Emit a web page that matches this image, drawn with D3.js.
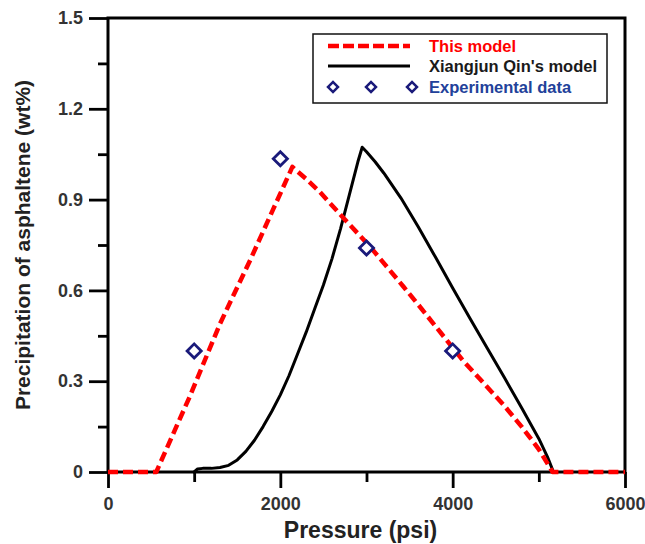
<!DOCTYPE html>
<html>
<head>
<meta charset="utf-8">
<script src="https://cdn.jsdelivr.net/npm/d3@7"></script>
<style>
  html, body { margin: 0; padding: 0; background: #fff; }
  svg { display: block; font-family: "Liberation Sans", Arial, sans-serif; }
</style>
</head>
<body>
<svg id="chart" width="645" height="544"></svg>
<script>
// Asphaltene precipitation vs pressure

// "This model" (red dashed)
const modelPressure = [0, 560, 950, 1300, 1650, 1920, 2140, 2300, 2460, 2730, 3040, 3430, 3620, 4120, 4590, 4800, 5000, 5160, 6000];
const modelValue    = [0, 0, 0.25, 0.49, 0.70, 0.87, 1.008, 0.968, 0.925, 0.840, 0.745, 0.612, 0.546, 0.368, 0.222, 0.150, 0.075, 0, 0];

// Xiangjun Qin's model (black solid)
const qinPressure = [1000, 1040, 1100, 1200, 1300, 1400, 1500, 1600, 1700, 1800, 1900, 2000, 2100, 2200, 2300, 2400, 2500, 2600, 2700, 2800, 2900, 2950,
                     3000, 3100, 3200, 3400, 3600, 3800, 4000, 4200, 4400, 4600, 4800, 5000, 5100, 5170];
const qinValue    = [0, 0.010, 0.012, 0.012, 0.015, 0.022, 0.040, 0.068, 0.105, 0.150, 0.200, 0.255, 0.318, 0.390, 0.462, 0.540, 0.618, 0.705, 0.805, 0.915, 1.025, 1.073,
                     1.058, 1.025, 0.988, 0.905, 0.810, 0.710, 0.608, 0.508, 0.410, 0.312, 0.212, 0.110, 0.050, 0];

// Experimental data (diamonds)
const expPressure = [1000, 2000, 3000, 4000];
const expValue    = [0.40, 1.035, 0.74, 0.40];

// Axis ticks
const xMajorTicks = [0, 2000, 4000, 6000];
const xMinorTicks = [1000, 3000, 5000];
const yMajorTicks = [0, 0.3, 0.6, 0.9, 1.2, 1.5];
const yMinorTicks = [0.15, 0.45, 0.75, 1.05, 1.35];
const yTickLabels = ["0", "0.3", "0.6", "0.9", "1.2", "1.5"];

const legendLabels = ["This model", "Xiangjun Qin's model", "Experimental data"];

const svg = d3.select("#chart");
const plotLeft = 108, plotRight = 625, plotTop = 18, plotBottom = 472;

const x = d3.scaleLinear().domain([0, 6000]).range([plotLeft, plotRight]);
const y = d3.scaleLinear().domain([0, 1.5]).range([plotBottom, plotTop]);

const red = "#ff0000";
const navy = "#1a1a7a";
const axisColor = "#000";
const tickText = "#333";

// Axes (bottom, left) with outward ticks
const xAxis = d3.axisBottom(x).tickValues(xMajorTicks).tickSize(16).tickPadding(9).tickFormat(d3.format("d"));
const xAxisMinor = d3.axisBottom(x).tickValues(xMinorTicks).tickSize(10).tickFormat("");
const yAxis = d3.axisLeft(y).tickValues(yMajorTicks).tickSize(19).tickPadding(6)
  .tickFormat((d, i) => yTickLabels[i]);
const yAxisMinor = d3.axisLeft(y).tickValues(yMinorTicks).tickSize(10).tickFormat("");

function styleAxis(g) {
  g.select(".domain").remove();
  g.selectAll(".tick line").attr("stroke", axisColor).attr("stroke-width", 2.8);
  g.selectAll(".tick text")
    .attr("fill", tickText)
    .style("font-size", "18px")
    .style("font-weight", "bold")
    .style("font-family", "'Liberation Sans', Arial, sans-serif");
}

svg.append("g").attr("transform", `translate(0,${plotBottom})`).call(xAxisMinor).call(styleAxis);
svg.append("g").attr("transform", `translate(0,${plotBottom})`).call(xAxis).call(styleAxis);
svg.append("g").attr("transform", `translate(${plotLeft},0)`).call(yAxisMinor).call(styleAxis);
svg.append("g").attr("transform", `translate(${plotLeft},0)`).call(yAxis).call(styleAxis);

// Plot frame
svg.append("rect")
  .attr("x", plotLeft).attr("y", plotTop)
  .attr("width", plotRight - plotLeft).attr("height", plotBottom - plotTop)
  .attr("fill", "none").attr("stroke", axisColor).attr("stroke-width", 3);

// Curves
const modelData = modelPressure.map((p, i) => [p, modelValue[i]]);
const qinData = qinPressure.map((p, i) => [p, qinValue[i]]);
const line = d3.line().x(d => x(d[0])).y(d => y(d[1])).curve(d3.curveLinear);

svg.append("path")
  .datum(qinData)
  .attr("d", line)
  .attr("fill", "none")
  .attr("stroke", "#000")
  .attr("stroke-width", 3)
  .attr("stroke-linejoin", "round")
  .attr("stroke-linecap", "round");

svg.append("path")
  .datum(modelData)
  .attr("d", line)
  .attr("fill", "none")
  .attr("stroke", red)
  .attr("stroke-width", 4.5)
  .attr("stroke-dasharray", "10,5")
  .attr("stroke-linejoin", "round");

// Experimental points
const diamond = d3.symbol().type(d3.symbolSquare).size(100);
svg.append("g").selectAll("path")
  .data(expPressure.map((p, i) => [p, expValue[i]]))
  .join("path")
  .attr("d", diamond)
  .attr("transform", d => `translate(${x(d[0])},${y(d[1])}) rotate(45)`)
  .attr("fill", "#fff")
  .attr("stroke", navy)
  .attr("stroke-width", 2.8);

// Axis titles
svg.append("text")
  .attr("x", (plotLeft + plotRight) / 2 - 6).attr("y", 538)
  .attr("text-anchor", "middle")
  .attr("fill", "#222")
  .style("font-size", "23px").style("font-weight", "bold")
  .text("Pressure (psi)");

svg.append("text")
  .attr("transform", `translate(30,${(plotTop + plotBottom) / 2}) rotate(-90)`)
  .attr("text-anchor", "middle")
  .attr("fill", "#222")
  .style("font-size", "21px").style("font-weight", "bold")
  .text("Precipitation of asphaltene (wt%)");

// Legend
const lg = svg.append("g");
lg.append("rect")
  .attr("x", 313).attr("y", 34).attr("width", 294).attr("height", 69)
  .attr("fill", "#fff").attr("stroke", "#111").attr("stroke-width", 1.5);

const rowY = [46, 66, 87];
lg.append("line")
  .attr("x1", 328).attr("x2", 410).attr("y1", rowY[0]).attr("y2", rowY[0])
  .attr("stroke", red).attr("stroke-width", 4.5).attr("stroke-dasharray", "11,4");
lg.append("line")
  .attr("x1", 328).attr("x2", 410).attr("y1", rowY[1]).attr("y2", rowY[1])
  .attr("stroke", "#000").attr("stroke-width", 3);
lg.selectAll("path.lgd")
  .data([333, 371, 412])
  .join("path")
  .attr("class", "lgd")
  .attr("d", d3.symbol().type(d3.symbolSquare).size(50))
  .attr("transform", d => `translate(${d},${rowY[2]}) rotate(45)`)
  .attr("fill", "#fff").attr("stroke", navy).attr("stroke-width", 2.5);

const legendColors = [red, "#1a1a1a", "#22419a"];
lg.selectAll("text")
  .data(legendLabels)
  .join("text")
  .attr("x", 429)
  .attr("y", (d, i) => rowY[i] + 5.5)
  .attr("fill", (d, i) => legendColors[i])
  .style("font-size", "16.5px").style("font-weight", "bold")
  .text(d => d);
</script>
</body>
</html>
